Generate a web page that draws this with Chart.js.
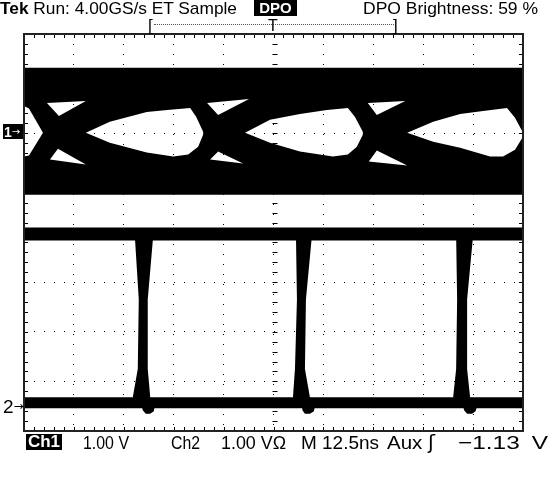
<!DOCTYPE html>
<html>
<head>
<meta charset="utf-8">
<script src="https://cdn.jsdelivr.net/npm/chart.js@4"></script>
<style>
  body { margin: 0; background: #fff; width: 551px; height: 479px; overflow: hidden; position: relative;
         font-family: "Liberation Sans", Arial, sans-serif; color: #000; }
  #scope { position: absolute; left: 0; top: 0; }
  .t { position: absolute; white-space: nowrap; line-height: 1; transform-origin: left top; }
  .inv { background: #000; color: #fff; font-weight: bold; text-align: center; }
  .arr { font-family: "DejaVu Sans", sans-serif; font-weight: normal; }
</style>
</head>
<body>
<canvas id="scope" width="551" height="479"></canvas>

<div class="t" style="left:0;top:0;font-size:17px" data-w="237"><b>Tek</b> Run: 4.00GS/s ET Sample</div>
<div class="t inv" style="left:254px;top:0;width:43px;height:16px;font-size:15px;line-height:16px">DPO</div>
<div class="t" style="left:363px;top:0;font-size:17px" data-w="175">DPO Brightness: 59 %</div>

<div class="t" style="left:148px;top:17px;font-size:17px">[</div>
<div style="position:absolute;left:154px;top:24px;width:240px;border-top:1px dotted #555"></div>
<div class="t" style="left:268px;top:18px;font-size:16px">T</div>
<div class="t" style="left:393px;top:17px;font-size:17px">]</div>

<div class="t inv" style="left:3px;top:124px;width:20px;height:15px;font-size:14px;line-height:15px;text-align:left;padding-left:1px;box-sizing:border-box">1<span class="arr" style="font-size:10px;vertical-align:2px">→</span></div>
<div class="t" style="left:3px;top:397px;font-size:19px">2<span class="arr" style="font-size:12px;vertical-align:3px">→</span></div>

<div class="t inv" style="left:26px;top:434px;width:36px;height:16px;font-size:17px;line-height:16px">Ch1</div>
<div class="t" style="left:83px;top:433px;font-size:19px" data-w="46">1.00 V</div>
<div class="t" style="left:171px;top:433px;font-size:19px" data-w="29">Ch2</div>
<div class="t" style="left:221px;top:433px;font-size:19px" data-w="65">1.00 VΩ</div>
<div class="t" style="left:301px;top:433px;font-size:19px" data-w="78">M 12.5ns</div>
<div class="t" style="left:387px;top:433px;font-size:19px" data-w="48">Aux <span style="font-family:'DejaVu Sans'">ʃ</span></div>
<div class="t" style="left:458px;top:433px;font-size:19px;word-spacing:4px" data-w="90">−1.13 V</div>

<script>
// all coordinates in graticule divisions: x 0..10, y -4..4 (centre = 0)

// Ch1 eye diagram: persistence band and the white eye openings
const ch1BandX = [0, 10, 10, 0, 0];
const ch1BandY = [3.32, 3.32, 0.76, 0.76, 3.32];

const eye1X = [0, 0.1, 0.38, 0.1, 0, 0];
const eye1Y = [2.55, 2.5, 2.01, 1.55, 1.53, 2.55];
const eye2X = [1.24, 1.72, 2.46, 2.87, 3.33, 3.45, 3.59, 3.59, 3.49, 3.29, 2.99, 2.46, 1.72, 1.24];
const eye2Y = [2.01, 2.23, 2.43, 2.47, 2.51, 2.33, 2.03, 1.97, 1.73, 1.57, 1.53, 1.61, 1.81, 2.01];
const eye3X = [4.43, 4.93, 5.53, 6.07, 6.49, 6.63, 6.79, 6.79, 6.67, 6.49, 6.19, 5.53, 4.93, 4.43];
const eye3Y = [2.01, 2.27, 2.39, 2.47, 2.51, 2.33, 2.03, 1.97, 1.73, 1.57, 1.53, 1.63, 1.81, 2.01];
const eye4X = [7.68, 8.20, 8.74, 9.20, 9.68, 9.84, 10, 10, 9.84, 9.60, 9.34, 8.74, 8.20, 7.68];
const eye4Y = [2.01, 2.23, 2.39, 2.45, 2.51, 2.31, 2.01, 1.93, 1.67, 1.53, 1.53, 1.71, 1.83, 2.01];

// small openings above and below each crossing
const upTri1X = [0.46, 1.24, 0.70, 0.46], upTri1Y = [2.61, 2.65, 2.35, 2.61];
const upTri2X = [3.67, 4.51, 3.89, 3.67], upTri2Y = [2.61, 2.69, 2.37, 2.61];
const upTri3X = [6.89, 7.64, 7.07, 6.89], upTri3Y = [2.61, 2.65, 2.37, 2.61];
const loTri1X = [0.68, 1.24, 0.52, 0.68], loTri1Y = [1.69, 1.37, 1.47, 1.69];
const loTri2X = [3.89, 4.39, 3.73, 3.89], loTri2Y = [1.63, 1.39, 1.47, 1.63];
const loTri3X = [7.07, 7.68, 6.91, 7.07], loTri3Y = [1.65, 1.35, 1.43, 1.65];

// Ch2: high and low rails plus three edges with a small undershoot
const ch2HighY = -0.03;
const ch2LowY = -3.43;
const edgeY = [-0.06, -0.06, -1.35, -2.75, -3.32, -3.50, -3.60, -3.65, -3.65, -3.58, -3.50, -3.32, -2.75, -1.35, -0.06];
const edge1X = [2.22, 2.59, 2.48, 2.48, 2.53, 2.62, 2.60, 2.53, 2.44, 2.38, 2.36, 2.18, 2.28, 2.30, 2.22];
const edge2X = [5.45, 5.77, 5.65, 5.63, 5.73, 5.83, 5.81, 5.73, 5.63, 5.58, 5.57, 5.39, 5.43, 5.47, 5.45];
const edge3X = [8.66, 9.00, 8.88, 8.88, 8.94, 9.08, 9.05, 8.98, 8.88, 8.82, 8.80, 8.60, 8.66, 8.68, 8.66];

const pts = (xs, ys) => xs.map((v, i) => ({ x: v, y: ys[i] }));

function shape(xs, ys, color, order) {
  return { data: pts(xs, ys), fill: 'shape', backgroundColor: color, borderColor: color,
           borderWidth: 0, pointRadius: 0, order: order };
}
function rail(y, width) {
  return { data: pts([0, 10], [y, y]), fill: false, borderColor: '#000', borderWidth: width,
           pointRadius: 0, order: 2 };
}

// scope graticule: frame, minor ticks on frame and centre lines
const graticule = {
  id: 'graticule',
  afterDraw(chart) {
    const { ctx, chartArea: a, scales: { x, y } } = chart;
    const cx = Math.round(x.getPixelForValue(5)) + 0.5;
    const cy = Math.round(y.getPixelForValue(0)) + 0.5;
    ctx.save();
    ctx.strokeStyle = '#000';
    ctx.lineWidth = 1;
    ctx.beginPath();
    for (let i = 0; i <= 50; i++) {
      const px = Math.round(x.getPixelForValue(i / 5)) + 0.5;
      ctx.moveTo(px, a.top); ctx.lineTo(px, a.top + 4);
      ctx.moveTo(px, a.bottom); ctx.lineTo(px, a.bottom - 4);
      ctx.moveTo(px, cy - 2); ctx.lineTo(px, cy + 3);
    }
    for (let i = 0; i <= 40; i++) {
      const py = Math.round(y.getPixelForValue(-4 + i / 5)) + 0.5;
      ctx.moveTo(a.left, py); ctx.lineTo(a.left + 4, py);
      ctx.moveTo(a.right, py); ctx.lineTo(a.right - 4, py);
      ctx.moveTo(cx - 2, py); ctx.lineTo(cx + 3, py);
    }
    ctx.stroke();
    ctx.strokeStyle = '#222';
    ctx.lineWidth = 2;
    ctx.strokeRect(a.left, a.top, a.right - a.left, a.bottom - a.top);
    ctx.restore();
  }
};

const axisOpts = (min, max) => ({
  type: 'linear', min: min, max: max,
  ticks: { display: false, stepSize: 1 },
  grid: { color: '#000', lineWidth: 1, drawTicks: false, z: 1 },
  border: { display: false, dash: [1, 9] }
});

new Chart(document.getElementById('scope'), {
  type: 'line',
  data: {
    datasets: [
      shape(ch1BandX, ch1BandY, '#000', 9),
      shape(eye1X, eye1Y, '#fff', 5),
      shape(eye2X, eye2Y, '#fff', 5),
      shape(eye3X, eye3Y, '#fff', 5),
      shape(eye4X, eye4Y, '#fff', 5),
      shape(upTri1X, upTri1Y, '#fff', 5),
      shape(upTri2X, upTri2Y, '#fff', 5),
      shape(upTri3X, upTri3Y, '#fff', 5),
      shape(loTri1X, loTri1Y, '#fff', 5),
      shape(loTri2X, loTri2Y, '#fff', 5),
      shape(loTri3X, loTri3Y, '#fff', 5),
      rail(ch2HighY, 13),
      rail(ch2LowY, 11),
      shape(edge1X, edgeY, '#000', 1),
      shape(edge2X, edgeY, '#000', 1),
      shape(edge3X, edgeY, '#000', 1)
    ]
  },
  options: {
    responsive: false,
    animation: false,
    layout: { padding: { left: 24, top: 34, right: 28, bottom: 48 } },
    plugins: { legend: { display: false }, tooltip: { enabled: false } },
    elements: { line: { tension: 0 } },
    scales: { x: axisOpts(0, 10), y: axisOpts(-4, 4) }
  },
  plugins: [graticule]
});

// fit the readout texts to the widths seen on the scope screen
document.querySelectorAll('[data-w]').forEach(el => {
  const w = el.getBoundingClientRect().width;
  el.style.transform = 'scaleX(' + (el.dataset.w / w) + ')';
});
</script>
</body>
</html>
